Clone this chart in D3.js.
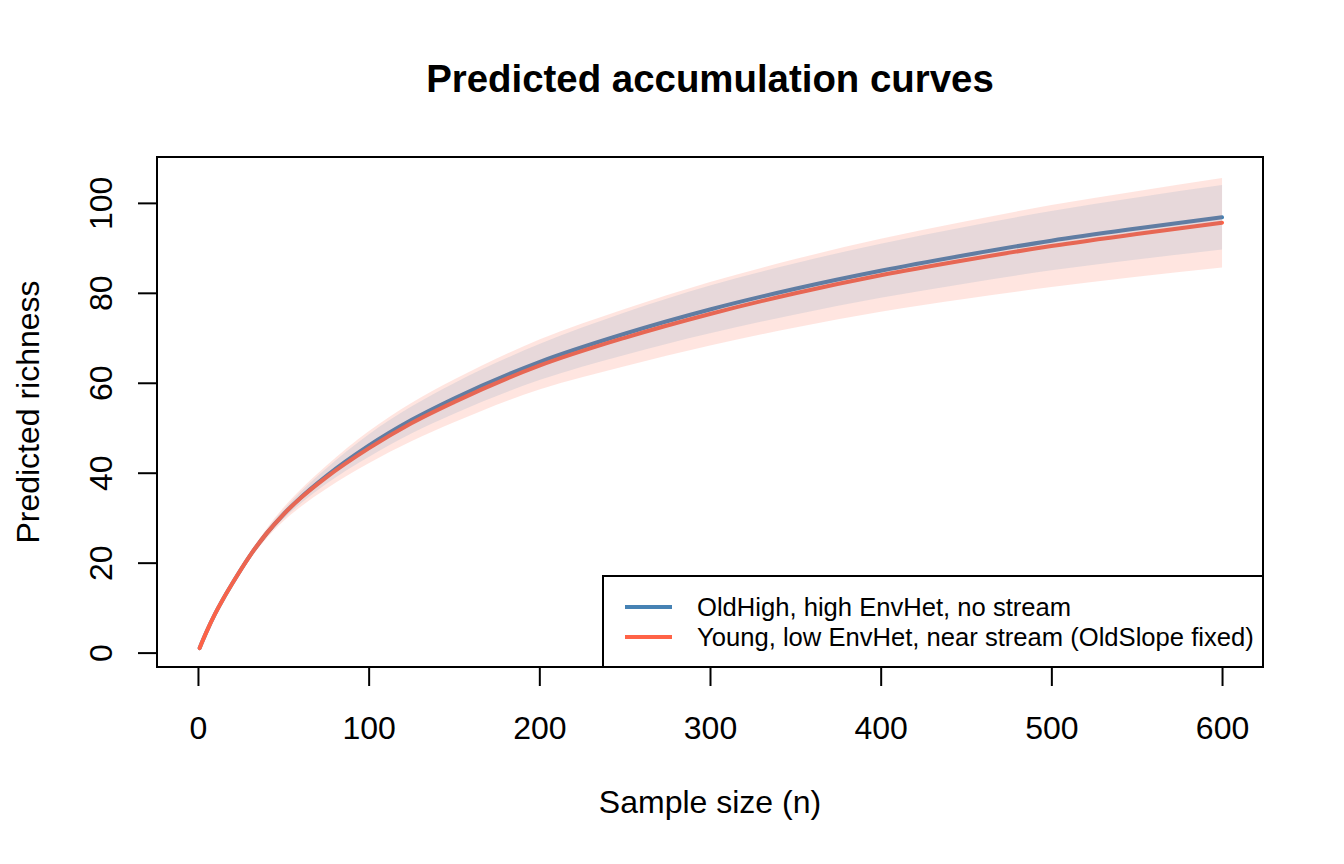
<!DOCTYPE html>
<html>
<head>
<meta charset="utf-8">
<script src="https://cdn.jsdelivr.net/npm/d3@7"></script>
<style>
  body { margin: 0; background: #fff; }
  svg { display: block; font-family: "Liberation Sans", Arial, Helvetica, sans-serif; }
</style>
</head>
<body>
<div id="chart"></div>
<script>
// sample sizes along the curves
const sampleSizes = [1, 2, 5, 10, 15, 20, 30, 40, 50, 60, 75, 100, 125, 150, 200, 250, 300, 350, 400, 450, 500, 550, 600];
// OldHigh, high EnvHet, no stream
const blueFit   = [1.0, 1.95, 4.6, 8.6, 12.1, 15.3, 21.3, 26.4, 30.7, 34.4, 39.2, 46.0, 51.7, 56.5, 64.6, 70.9, 76.3, 80.9, 84.9, 88.4, 91.6, 94.3, 96.8];
const blueLower = [0.99, 1.93, 4.54, 8.48, 11.9, 15.02, 20.8, 25.65, 29.7, 33.1, 37.5, 43.5, 48.7, 53.1, 60.6, 66.2, 71.0, 75.2, 78.9, 82.1, 85.0, 87.4, 89.65];
const blueUpper = [1.01, 1.97, 4.66, 8.72, 12.3, 15.58, 21.8, 27.15, 31.7, 35.7, 40.9, 48.5, 54.7, 59.9, 68.6, 75.6, 81.6, 86.6, 90.9, 94.7, 98.2, 101.2, 103.95];
// Young, low EnvHet, near stream (OldSlope fixed)
const redFit   = [1.0, 1.95, 4.6, 8.6, 12.1, 15.3, 21.3, 26.4, 30.7, 34.3, 38.9, 45.4, 51.0, 55.7, 63.8, 70.0, 75.3, 79.9, 83.9, 87.3, 90.4, 93.1, 95.6];
const redLower = [0.98, 1.91, 4.5, 8.4, 11.8, 14.85, 20.55, 25.3, 29.2, 32.4, 36.4, 42.1, 47.0, 51.2, 58.5, 63.7, 68.3, 72.3, 75.8, 78.7, 81.3, 83.6, 85.65];
const redUpper = [1.02, 1.99, 4.7, 8.8, 12.4, 15.75, 22.05, 27.5, 32.2, 36.2, 41.5, 49.2, 55.5, 60.7, 69.6, 76.4, 82.4, 87.5, 92.0, 95.9, 99.5, 102.6, 105.55];

const xTicks = [0, 100, 200, 300, 400, 500, 600];
const yTicks = [0, 20, 40, 60, 80, 100];
const xLimits = [0, 600];
const yLimits = [1, 106];
const legendLabels = ["OldHigh, high EnvHet, no stream", "Young, low EnvHet, near stream (OldSlope fixed)"];

const blueCol = "steelblue";
const redCol = "tomato";

let svgWidth = 1344;
let svgHeight = 864;
let plot = { left: 157, right: 1263, top: 157, bottom: 667 };

let svg = d3.select("#chart")
  .append("svg")
  .attr("width", svgWidth)
  .attr("height", svgHeight);

// R style 4% padding on the axis limits
function pad(lim) {
  let d = (lim[1] - lim[0]) * 0.04;
  return [lim[0] - d, lim[1] + d];
}

let x = d3.scaleLinear().domain(pad(xLimits)).range([plot.left, plot.right]);
let y = d3.scaleLinear().domain(pad(yLimits)).range([plot.bottom, plot.top]);

function rows(fit, lo, hi) {
  return sampleSizes.map((n, i) => ({ n: n, fit: fit[i], lo: lo[i], hi: hi[i] }));
}
let blueRows = rows(blueFit, blueLower, blueUpper);
let redRows = rows(redFit, redLower, redUpper);

let line = d3.line()
  .x(d => x(d.n))
  .y(d => y(d.fit))
  .curve(d3.curveMonotoneX);

let band = d3.area()
  .x(d => x(d.n))
  .y0(d => y(d.lo))
  .y1(d => y(d.hi))
  .curve(d3.curveMonotoneX);

// curves first, the shaded bands were drawn over them
svg.append("path")
  .datum(blueRows)
  .attr("d", line)
  .attr("fill", "none")
  .attr("stroke", blueCol)
  .attr("stroke-width", 4)
  .attr("stroke-linecap", "round");

svg.append("path")
  .datum(redRows)
  .attr("d", line)
  .attr("fill", "none")
  .attr("stroke", redCol)
  .attr("stroke-width", 4)
  .attr("stroke-linecap", "round");

svg.append("path")
  .datum(redRows)
  .attr("d", band)
  .attr("fill", redCol)
  .attr("fill-opacity", 0.17);

svg.append("path")
  .datum(blueRows)
  .attr("d", band)
  .attr("fill", blueCol)
  .attr("fill-opacity", 0.13);

// axes
let bottomAxis = d3.axisBottom(x).tickValues(xTicks).tickSize(19).tickPadding(30).tickSizeOuter(0);
let leftAxis = d3.axisLeft(y).tickValues(yTicks).tickSize(19).tickSizeOuter(0);

let gx = svg.append("g")
  .attr("transform", `translate(0, ${plot.bottom})`)
  .call(bottomAxis);
gx.select(".domain").remove();
gx.selectAll("line").attr("stroke", "#000").attr("stroke-width", 2);
gx.selectAll("text")
  .attr("font-size", 32)
  .attr("fill", "#000")
  .style("font-family", "inherit");

let gy = svg.append("g")
  .attr("transform", `translate(${plot.left}, 0)`)
  .call(leftAxis);
gy.select(".domain").remove();
gy.selectAll("line").attr("stroke", "#000").attr("stroke-width", 2);
gy.selectAll("text")
  .attr("x", 0)
  .attr("y", -45)
  .attr("dy", 0)
  .attr("transform", "rotate(-90)")
  .attr("font-size", 32)
  .attr("fill", "#000")
  .style("text-anchor", "middle")
  .style("font-family", "inherit");

// axis lines between first and last tick, like R
svg.append("line")
  .attr("x1", x(xTicks[0])).attr("x2", x(xTicks[xTicks.length - 1]))
  .attr("y1", plot.bottom).attr("y2", plot.bottom)
  .attr("stroke", "#000").attr("stroke-width", 2);
svg.append("line")
  .attr("x1", plot.left).attr("x2", plot.left)
  .attr("y1", y(yTicks[0])).attr("y2", y(yTicks[yTicks.length - 1]))
  .attr("stroke", "#000").attr("stroke-width", 2);

// plot box
svg.append("rect")
  .attr("x", plot.left)
  .attr("y", plot.top)
  .attr("width", plot.right - plot.left)
  .attr("height", plot.bottom - plot.top)
  .attr("fill", "none")
  .attr("stroke", "#000")
  .attr("stroke-width", 2);

// title and axis labels
svg.append("text")
  .attr("x", (plot.left + plot.right) / 2)
  .attr("y", 92)
  .attr("text-anchor", "middle")
  .attr("font-size", 38.4)
  .attr("font-weight", "bold")
  .text("Predicted accumulation curves");

svg.append("text")
  .attr("x", (plot.left + plot.right) / 2)
  .attr("y", 813)
  .attr("text-anchor", "middle")
  .attr("font-size", 32)
  .text("Sample size (n)");

svg.append("text")
  .attr("transform", `translate(39, ${(plot.top + plot.bottom) / 2}) rotate(-90)`)
  .attr("text-anchor", "middle")
  .attr("font-size", 32)
  .text("Predicted richness");

// legend, bottom right
let legend = svg.append("g");
legend.append("rect")
  .attr("x", 603)
  .attr("y", 576)
  .attr("width", plot.right - 603)
  .attr("height", plot.bottom - 576)
  .attr("fill", "#fff")
  .attr("stroke", "#000")
  .attr("stroke-width", 2);

let legendCols = [blueCol, redCol];
legendLabels.forEach((lab, i) => {
  let ly = 607 + i * 30;
  legend.append("line")
    .attr("x1", 625).attr("x2", 672)
    .attr("y1", ly).attr("y2", ly)
    .attr("stroke", legendCols[i])
    .attr("stroke-width", 4);
  legend.append("text")
    .attr("x", 697)
    .attr("y", ly + 9)
    .attr("font-size", 25.6)
    .text(lab);
});
</script>
</body>
</html>
